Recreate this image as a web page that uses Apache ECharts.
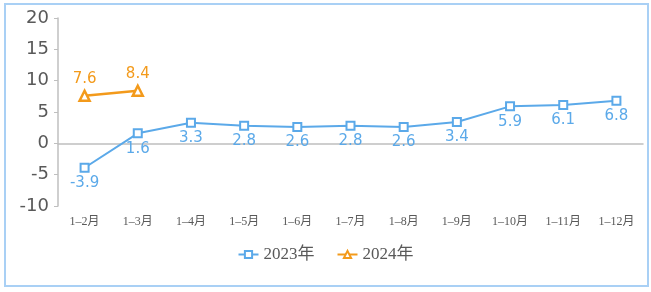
<!DOCTYPE html>
<html><head><meta charset="utf-8">
<script src="https://cdn.jsdelivr.net/npm/echarts@6/dist/echarts.min.js"></script>
<style>
html,body{margin:0;padding:0;background:#fff;}
#frame{position:absolute;left:4px;top:3px;width:641px;height:280px;border:2px solid #a9d0f5;}
#c{position:absolute;left:0;top:0;width:651px;height:292px;}
</style></head>
<body>
<div id="frame"></div>
<div id="c"></div>
<script>
const categories = ['1–2月','1–3月','1–4月','1–5月','1–6月','1–7月','1–8月','1–9月','1–10月','1–11月','1–12月'];
const values2023 = [-3.9, 1.6, 3.3, 2.8, 2.6, 2.8, 2.6, 3.4, 5.9, 6.1, 6.8];
const values2024 = [7.6, 8.4];
const yTicks = [-10, -5, 0, 5, 10, 15, 20];

const chart = echarts.init(document.getElementById('c'));
chart.setOption({
  animation: false,
  grid: {left: 58, right: 8, top: 18, bottom: 86},
  legend: {
    bottom: 24, left: 'center', itemWidth: 20, itemHeight: 9, itemGap: 22,
    textStyle: {fontFamily: "'Liberation Serif','Noto Sans CJK SC'", fontSize: 17, color: '#595959'},
    data: ['2023年', '2024年']
  },
  xAxis: {
    type: 'category', data: categories, boundaryGap: true,
    axisLine: {lineStyle: {color: '#bfbfbf', width: 1.5}},
    axisTick: {show: false},
    axisLabel: {interval: 0, color: '#595959', fontSize: 12, margin: 10,
      fontFamily: "'Liberation Serif','Noto Sans CJK SC'"}
  },
  yAxis: {
    type: 'value', min: yTicks[0], max: yTicks[yTicks.length-1], interval: 5,
    axisLine: {show: true, lineStyle: {color: '#bfbfbf', width: 1.5}},
    axisTick: {show: true, length: 4, lineStyle: {color: '#bfbfbf'}},
    splitLine: {show: false},
    axisLabel: {color: '#595959', fontSize: 18, margin: 9, fontFamily: "'DejaVu Sans'"}
  },
  series: [
    {
      name: '2023年', type: 'line', data: values2023,
      symbol: 'rect', symbolSize: 8,
      lineStyle: {color: '#5ba9e9', width: 2},
      itemStyle: {color: '#fff', borderColor: '#5ba9e9', borderWidth: 2},
      label: {show: true, position: 'bottom', distance: 3, color: '#5ba9e9', fontSize: 15, fontFamily: "'DejaVu Sans'"}
    },
    {
      name: '2024年', type: 'line', data: values2024,
      symbol: 'triangle', symbolSize: 10,
      lineStyle: {color: '#f39a1b', width: 2.5},
      itemStyle: {color: '#fff', borderColor: '#f39a1b', borderWidth: 2.5},
      label: {show: true, position: 'top', distance: 3, color: '#f39a1b', fontSize: 15, fontFamily: "'DejaVu Sans'"}
    }
  ]
});
</script>
</body></html>
